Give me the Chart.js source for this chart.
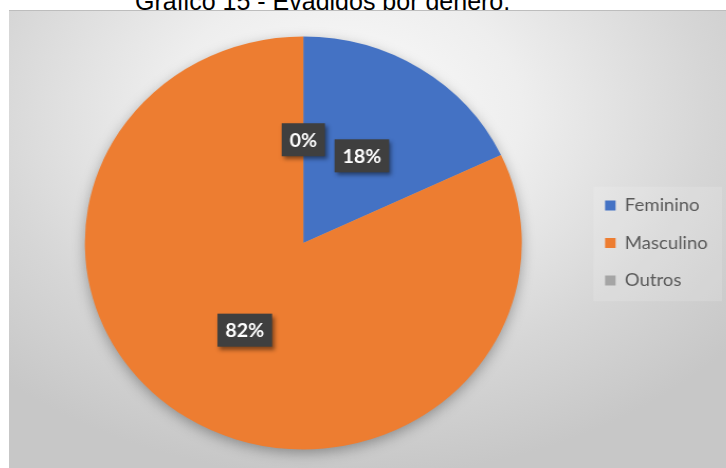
<!DOCTYPE html>
<html>
<head>
<meta charset="utf-8">
<script src="https://cdn.jsdelivr.net/npm/chart.js@4.4.1/dist/chart.umd.min.js"></script>
<style>
  html, body { margin: 0; padding: 0; width: 726px; height: 468px; overflow: hidden; background: #fff; }
  #titulo {
    position: absolute; left: 135px; top: -11px; z-index: 0;
    font: 25px "Liberation Sans", Arial, sans-serif; line-height: 25px;
    color: #000; white-space: nowrap;
  }
  #quadro {
    position: absolute; left: 9px; top: 10px; width: 717px; height: 458px; z-index: 1;
    overflow: hidden; border-top: 1px solid #bdbdbd;
    background: radial-gradient(ellipse 70% 80% at 47% 22%, #fbfbfb 0%, #eeeeee 35%, #d6d6d6 72%, #c7c7c7 100%);
  }
  /* the pie is a bit wider than tall, so the drawing is stretched sideways */
  #esticado { position: absolute; left: 0; top: 0; width: 678px; height: 458px; transform: scaleX(1.058); transform-origin: 0 0; }
</style>
</head>
<body>
<div id="titulo">Gráfico 15 - Evadidos por gênero.</div>
<div id="quadro">
  <div id="esticado"><canvas id="pizza"></canvas></div>
</div>
<script>
var generos = ["Feminino", "Masculino", "Outros"];
var evadidos = [18, 82, 0];
var cores = ["#4472C4", "#ED7D31", "#A5A5A5"];

// soft shadow under the whole pie
var sombra = {
  id: 'sombra',
  beforeDatasetsDraw: function(chart) {
    var arc = chart.getDatasetMeta(0).data[0];
    if (!arc) return;
    var ctx = chart.ctx;
    ctx.save();
    ctx.shadowColor = 'rgba(0,0,0,0.35)';
    ctx.shadowBlur = 14;
    ctx.shadowOffsetY = 4;
    ctx.fillStyle = '#b0b0b0';
    ctx.beginPath();
    ctx.arc(arc.x, arc.y, arc.outerRadius - 1, 0, Math.PI * 2);
    ctx.fill();
    ctx.restore();
  }
};

// faint panel behind the legend
var fundoLegenda = {
  id: 'fundoLegenda',
  beforeDraw: function(chart) {
    var caixas = chart.legend && chart.legend.legendHitBoxes;
    if (!caixas || !caixas.length) return;
    var topo = caixas[0].top - 10;
    var base = caixas[caixas.length - 1].top + caixas[caixas.length - 1].height + 12;
    var esq = caixas[0].left - 11;
    var ctx = chart.ctx;
    ctx.save();
    ctx.fillStyle = 'rgba(255,255,255,0.14)';
    ctx.fillRect(esq, topo, chart.width - 4 - esq, base - topo);
    ctx.restore();
  }
};

// percentage labels in dark boxes
var rotulos = {
  id: 'rotulos',
  afterDatasetsDraw: function(chart) {
    var ctx = chart.ctx;
    var meta = chart.getDatasetMeta(0);
    var vals = chart.data.datasets[0].data;
    var total = vals.reduce(function(a, b) { return a + b; }, 0);
    ctx.save();
    ctx.font = 'bold 18.5px Lato, "Open Sans", sans-serif';
    ctx.textAlign = 'center';
    ctx.textBaseline = 'middle';
    meta.data.forEach(function(arc, i) {
      var p = arc.tooltipPosition();
      var txt = Math.round(vals[i] / total * 100) + '%';
      var w = ctx.measureText(txt).width + 15, h = 33;
      ctx.shadowColor = 'rgba(0,0,0,0.45)';
      ctx.shadowBlur = 4;
      ctx.shadowOffsetX = 2;
      ctx.shadowOffsetY = 3;
      ctx.fillStyle = '#3f3f3f';
      ctx.fillRect(p.x - w / 2, p.y - h / 2, w, h);
      ctx.shadowColor = 'transparent';
      ctx.fillStyle = '#ffffff';
      ctx.fillText(txt, p.x, p.y + 1);
    });
    ctx.restore();
  }
};

new Chart(document.getElementById('pizza'), {
  type: 'pie',
  data: {
    labels: generos,
    datasets: [{
      data: evadidos,
      backgroundColor: cores,
      borderWidth: 0
    }]
  },
  options: {
    responsive: true,
    maintainAspectRatio: false,
    animation: false,
    events: [],
    layout: { padding: { left: 13, right: 7.5, top: 25.5, bottom: 19.5 } },
    plugins: {
      legend: {
        position: 'right',
        labels: {
          boxWidth: 10,
          boxHeight: 10,
          padding: 20,
          color: '#595959',
          font: { family: 'Lato', size: 17.5 }
        }
      },
      tooltip: { enabled: false }
    }
  },
  plugins: [fundoLegenda, sombra, rotulos]
});
</script>
</body>
</html>
